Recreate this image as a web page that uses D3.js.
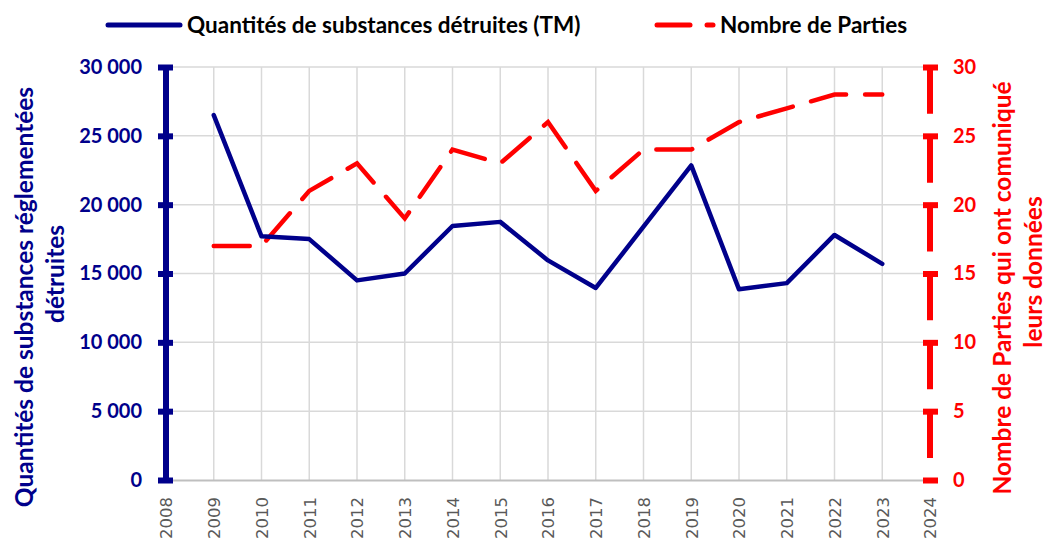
<!DOCTYPE html>
<html>
<head>
<meta charset="utf-8">
<script src="https://cdn.jsdelivr.net/npm/d3@7"></script>
<style>
body { margin: 0; background: #fff; }
svg { display: block; }
</style>
</head>
<body>
<div id="chart"></div>
<script>
// data
const years = [2009, 2010, 2011, 2012, 2013, 2014, 2015, 2016, 2017, 2018, 2019, 2020, 2021, 2022, 2023];
const destroyed = [26500, 17700, 17500, 14500, 15000, 18450, 18750, 15950, 13950, 18400, 22850, 13850, 14300, 17800, 15700];
const parties = [17, 17, 21, 23, 19, 24, 23, 26, 21, 24, 24, 26, 27, 28, 28];
const yTicksLeft = [0, 5000, 10000, 15000, 20000, 25000, 30000];
const yTicksRight = [0, 5, 10, 15, 20, 25, 30];
const xTicks = d3.range(2008, 2025);

const width = 1043, height = 542;
const margin = {top: 67, right: 113, bottom: 62, left: 166};
const innerWidth = width - margin.left - margin.right;
const innerHeight = height - margin.top - margin.bottom;

const navy = "#00008B";
const red = "#FF0000";
const font = "Lato, 'Open Sans', sans-serif";

const svg = d3.select("#chart")
  .append("svg")
  .attr("width", width)
  .attr("height", height);

const inner = svg.append("g")
  .attr("transform", `translate(${margin.left}, ${margin.top})`);

const xScale = d3.scaleLinear().domain([2008, 2024]).range([0, innerWidth]);
const yLeft = d3.scaleLinear().domain([0, 30000]).range([innerHeight, 0]);
const yRight = d3.scaleLinear().domain([0, 30]).range([innerHeight, 0]);

//gridlines
inner.append("g")
  .selectAll("line")
  .data(xTicks.slice(1, -1))
  .join("line")
    .attr("x1", d => xScale(d)).attr("x2", d => xScale(d))
    .attr("y1", 0).attr("y2", innerHeight)
    .attr("stroke", "#d9d9d9").attr("stroke-width", 1.5);
inner.append("g")
  .selectAll("line")
  .data(yTicksLeft.slice(1))
  .join("line")
    .attr("x1", 0).attr("x2", innerWidth)
    .attr("y1", d => yLeft(d)).attr("y2", d => yLeft(d))
    .attr("stroke", "#d9d9d9").attr("stroke-width", 1.5);

//x axis (labels rotated)
const bottomAxis = d3.axisBottom(xScale)
  .tickValues(xTicks)
  .tickFormat(d3.format("d"))
  .tickSize(0);
const xAxisG = inner.append("g")
  .attr("transform", `translate(0, ${innerHeight})`)
  .call(bottomAxis);
xAxisG.select(".domain").attr("stroke", "#bfbfbf").attr("stroke-width", 2);
xAxisG.selectAll("text")
  .attr("transform", "rotate(-90)")
  .attr("text-anchor", "end")
  .attr("x", -17)
  .attr("y", 0)
  .attr("dy", "0.36em")
  .attr("fill", "#595959")
  .style("font-family", "'DejaVu Sans', sans-serif")
  .style("font-size", "16.5px");

//left axis
const leftAxis = d3.axisLeft(yLeft)
  .tickValues(yTicksLeft)
  .tickFormat(d => d3.format(",")(d).replace(/,/g, " "))
  .tickSize(0)
  .tickPadding(24);
const leftG = inner.append("g").call(leftAxis);
leftG.select(".domain").remove();
leftG.append("line")
  .attr("y1", 0).attr("y2", innerHeight)
  .attr("stroke", navy).attr("stroke-width", 6);
leftG.selectAll(".tick").append("line")
  .attr("x1", -8).attr("x2", 7)
  .attr("stroke", navy).attr("stroke-width", 6);
leftG.selectAll("text")
  .attr("fill", navy)
  .style("font-family", font)
  .style("font-weight", "bold")
  .style("font-size", "20px");

//right axis, dashed like the series
const rightAxis = d3.axisRight(yRight)
  .tickValues(yTicksRight)
  .tickSize(0)
  .tickPadding(23);
const rightG = inner.append("g")
  .attr("transform", `translate(${innerWidth}, 0)`)
  .call(rightAxis);
rightG.select(".domain").remove();
const step = innerHeight / 6;
rightG.append("line")
  .attr("y1", 0).attr("y2", innerHeight)
  .attr("stroke", red).attr("stroke-width", 6)
  .attr("stroke-dasharray", `${step * 0.68},${step * 0.32}`);
rightG.selectAll(".tick").append("line")
  .attr("x1", -7).attr("x2", 8)
  .attr("stroke", red).attr("stroke-width", 6);
rightG.selectAll("text")
  .attr("fill", red)
  .style("font-family", font)
  .style("font-weight", "bold")
  .style("font-size", "20px");

//lines
const lineLeft = d3.line()
  .x((d, i) => xScale(years[i]))
  .y(d => yLeft(d));
const lineRight = d3.line()
  .x((d, i) => xScale(years[i]))
  .y(d => yRight(d));

inner.append("path")
  .datum(parties)
  .attr("d", lineRight)
  .attr("fill", "none")
  .attr("stroke", red)
  .attr("stroke-width", 4.5)
  .attr("stroke-linecap", "round")
  .attr("stroke-dasharray", "36,19");

inner.append("path")
  .datum(destroyed)
  .attr("d", lineLeft)
  .attr("fill", "none")
  .attr("stroke", navy)
  .attr("stroke-width", 4.5)
  .attr("stroke-linejoin", "round")
  .attr("stroke-linecap", "round");

//axis titles (each line placed on its own, like the wrapped excel titles)
const titleLines = [
  {text: "Quantités de substances réglementées", x: 24, y: 297, color: navy},
  {text: "détruites", x: 55, y: 274, color: navy},
  {text: "Nombre de Parties qui ont comuniqué", x: 1002, y: 288, color: red},
  {text: "leurs données", x: 1033, y: 272, color: red}
];
svg.append("g")
  .selectAll("text")
  .data(titleLines)
  .join("text")
    .attr("transform", d => `translate(${d.x}, ${d.y}) rotate(-90)`)
    .attr("text-anchor", "middle")
    .attr("dy", "0.35em")
    .attr("fill", d => d.color)
    .style("font-family", font)
    .style("font-weight", "bold")
    .style("font-size", "24.5px")
    .text(d => d.text);

//legend
const legend = svg.append("g");
legend.append("line")
  .attr("x1", 108).attr("x2", 180).attr("y1", 25).attr("y2", 25)
  .attr("stroke", navy).attr("stroke-width", 5).attr("stroke-linecap", "round");
legend.append("text")
  .attr("x", 187).attr("y", 25).attr("dy", "0.35em")
  .text("Quantités de substances détruites (TM)");
legend.append("line")
  .attr("x1", 657).attr("x2", 690).attr("y1", 25).attr("y2", 25)
  .attr("stroke", red).attr("stroke-width", 5).attr("stroke-linecap", "round");
legend.append("line")
  .attr("x1", 707).attr("x2", 713).attr("y1", 25).attr("y2", 25)
  .attr("stroke", red).attr("stroke-width", 5).attr("stroke-linecap", "round");
legend.append("text")
  .attr("x", 720).attr("y", 25).attr("dy", "0.35em")
  .text("Nombre de Parties");
legend.selectAll("text")
  .attr("fill", "#000")
  .style("font-family", font)
  .style("font-weight", "bold")
  .style("font-size", "22.5px");
</script>
</body>
</html>
